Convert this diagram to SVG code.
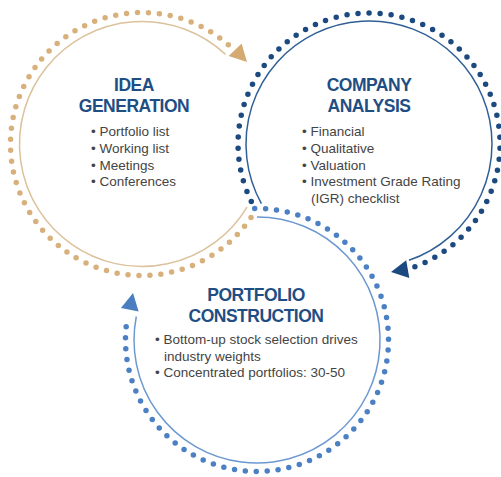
<svg xmlns="http://www.w3.org/2000/svg" width="501" height="477" viewBox="0 0 501 477">
<defs>
<style>
.title{font-family:"Liberation Sans",Arial,sans-serif;font-weight:bold;font-size:17.5px;letter-spacing:-0.5px;fill:#1F4E84;text-anchor:middle}
.body{font-family:"Liberation Sans",Arial,sans-serif;font-size:13.5px;fill:#444444}
.ring{fill:none;stroke-width:1.5}
.dots{fill:none;stroke-width:5.5;stroke-linecap:round;stroke-dasharray:0 10}
.tan .ring{stroke:#DCC29C}
.tan .dots{stroke:#D8B07B}
.navy .ring{stroke:#2F5F96}
.navy .dots{stroke:#1C4A80}
.sky .ring{stroke:#6C98D2}
.sky .dots{stroke:#4C80C4}
</style>
<path id="head" d="M8,0 L-9,-9 L-9,9 Z"/>
</defs>
<rect width="501" height="477" fill="#FFFFFF"/>

<g id="connectors">
  <g class="tan">
    <path class="ring" d="M247,207.1 A122.5,122.5 0 1 1 225.5,54.4"/>
    <path class="dots" pathLength="580" d="M251,217.5 A131.5,131.5 0 1 1 228.3,44.8"/>
    <use href="#head" fill="#D4AA72" transform="translate(241.4,56.3) rotate(46)"/>
  </g>
  <g class="navy">
    <path class="ring" d="M261.4,203.6 A123,123 0 1 1 409,260.3"/>
    <path class="dots" pathLength="570" d="M251.3,201.4 A131,131 0 1 1 414.9,266.7"/>
    <use href="#head" fill="#1B4A80" transform="translate(398.9,270.6) rotate(170)"/>
  </g>
  <g class="sky">
    <path class="ring" d="M257,217 A123,123 0 1 1 136.3,316.5"/>
    <path class="dots" pathLength="590" d="M254.7,208.5 A131.5,131.5 0 1 1 127.7,316"/>
    <use href="#head" fill="#4A7EC0" transform="translate(131.5,300.9) rotate(-79)"/>
  </g>
</g>

<g id="idea-generation">
  <text class="title" x="134" y="91">IDEA</text>
  <text class="title" x="134" y="111.5">GENERATION</text>
  <text class="body" x="91" y="136">• Portfolio list</text>
  <text class="body" x="91" y="152.8">• Working list</text>
  <text class="body" x="91" y="169.6">• Meetings</text>
  <text class="body" x="91" y="186.4">• Conferences</text>
</g>

<g id="company-analysis">
  <text class="title" x="369" y="91">COMPANY</text>
  <text class="title" x="369" y="111.5">ANALYSIS</text>
  <text class="body" x="302" y="136">• Financial</text>
  <text class="body" x="302" y="152.8">• Qualitative</text>
  <text class="body" x="302" y="169.6">• Valuation</text>
  <text class="body" x="302" y="186.4">• Investment Grade Rating</text>
  <text class="body" x="311" y="203">(IGR) checklist</text>
</g>

<g id="portfolio-construction">
  <text class="title" x="256" y="300.7">PORTFOLIO</text>
  <text class="title" x="256" y="321.7">CONSTRUCTION</text>
  <text class="body" x="155" y="344">• Bottom-up stock selection drives</text>
  <text class="body" x="164" y="360.5">industry weights</text>
  <text class="body" x="155" y="377">• Concentrated portfolios: 30-50</text>
</g>
</svg>
